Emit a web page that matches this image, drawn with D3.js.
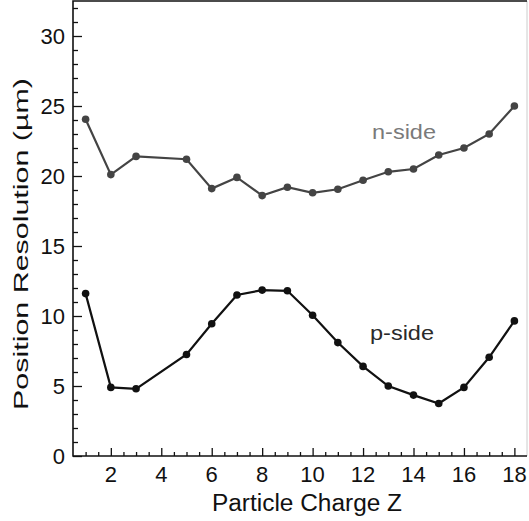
<!DOCTYPE html>
<html>
<head>
<meta charset="utf-8">
<script src="https://cdn.jsdelivr.net/npm/d3@7"></script>
<style>
  body { margin: 0; background: #fff; }
  svg { display: block; font-family: "Liberation Sans", Arial, sans-serif; }
</style>
</head>
<body>
<div id="chart"></div>
<script>
// particle charge Z (no measurement at Z = 4)
const charges = [1, 2, 3, 5, 6, 7, 8, 9, 10, 11, 12, 13, 14, 15, 16, 17, 18];
const nSide = [24.05, 20.1, 21.4, 21.2, 19.1, 19.9, 18.6, 19.2, 18.8, 19.05, 19.7, 20.3, 20.5, 21.5, 22.0, 23.0, 25.0];
const pSide = [11.6, 4.9, 4.8, 7.25, 9.45, 11.5, 11.85, 11.8, 10.05, 8.1, 6.4, 5.0, 4.35, 3.75, 4.9, 7.05, 9.65];
const xTicks = [2, 4, 6, 8, 10, 12, 14, 16, 18];
const yTicks = [0, 5, 10, 15, 20, 25, 30];

const width = 529, height = 521;
const margin = {top: 1, right: 2, bottom: 65, left: 73};

const svg = d3.select('#chart').append('svg')
  .attr('width', width)
  .attr('height', height);

const x = d3.scaleLinear().domain([0.5, 18.5]).range([margin.left, width - margin.right]);
const y = d3.scaleLinear().domain([0, 32.5]).range([height - margin.bottom, margin.top]);

// frame: dark left, bottom and top, faint right edge
const x0 = margin.left, x1 = width - margin.right;
const y0 = height - margin.bottom, y1 = margin.top;
svg.append('line').attr('x1', x1).attr('x2', x1).attr('y1', y1).attr('y2', y0)
  .attr('stroke', '#ccc').attr('stroke-width', 1);
svg.append('path')
  .attr('d', `M${x1},${y1}H${x0}V${y0}H${x1}`)
  .attr('fill', 'none')
  .attr('stroke', '#111')
  .attr('stroke-width', 1.6);

// minor ticks, pointing into the plot
const xMinor = d3.range(1, 18.01, 0.5).filter(v => v % 2 !== 0);
svg.append('g')
  .attr('transform', `translate(0,${y0})`)
  .call(d3.axisTop(x).tickValues(xMinor).tickSize(4).tickFormat(''))
  .call(g => g.select('.domain').remove());
svg.append('g')
  .attr('transform', `translate(${x0},0)`)
  .call(d3.axisRight(y).tickValues(d3.range(1, 33).filter(v => v % 5 !== 0)).tickSize(5).tickFormat(''))
  .call(g => g.select('.domain').remove());

// major ticks
svg.append('g')
  .attr('transform', `translate(0,${y0})`)
  .call(d3.axisTop(x).tickValues(xTicks).tickSize(8).tickFormat(''))
  .call(g => g.select('.domain').remove());
svg.append('g')
  .attr('transform', `translate(${x0},0)`)
  .call(d3.axisRight(y).tickValues(yTicks).tickSize(9).tickFormat(''))
  .call(g => g.select('.domain').remove());

svg.selectAll('.tick line').attr('stroke', '#111').attr('stroke-width', 1.3);

// tick labels
svg.append('g').selectAll('text')
  .data(xTicks)
  .join('text')
  .attr('x', d => x(d))
  .attr('y', y0 + 26)
  .attr('text-anchor', 'middle')
  .attr('font-size', 22)
  .attr('fill', '#111')
  .text(d => d);
svg.append('g').selectAll('text')
  .data(yTicks)
  .join('text')
  .attr('x', x0 - 8)
  .attr('y', d => y(d))
  .attr('dy', '0.35em')
  .attr('text-anchor', 'end')
  .attr('font-size', 22)
  .attr('fill', '#111')
  .text(d => d);

// axis titles
svg.append('text')
  .attr('x', 307)
  .attr('y', 511)
  .attr('text-anchor', 'middle')
  .attr('font-size', 23)
  .attr('textLength', 190)
  .attr('lengthAdjust', 'spacingAndGlyphs')
  .attr('fill', '#111')
  .text('Particle Charge Z');
svg.append('text')
  .attr('transform', 'translate(28,244) rotate(-90)')
  .attr('text-anchor', 'middle')
  .attr('font-size', 21)
  .attr('textLength', 332)
  .attr('lengthAdjust', 'spacingAndGlyphs')
  .attr('fill', '#111')
  .text('Position Resolution (µm)');

const line = d3.line()
  .x(d => x(d[0]))
  .y(d => y(d[1]));

function drawSeries(values, color) {
  const pts = charges.map((c, i) => [c, values[i]]);
  svg.append('path')
    .datum(pts)
    .attr('d', line)
    .attr('fill', 'none')
    .attr('stroke', color)
    .attr('stroke-width', 2.2);
  svg.append('g').selectAll('circle')
    .data(pts)
    .join('circle')
    .attr('cx', d => x(d[0]))
    .attr('cy', d => y(d[1]))
    .attr('r', 3.8)
    .attr('fill', color);
}

drawSeries(nSide, '#444');
drawSeries(pSide, '#111');

svg.append('text')
  .attr('x', 372)
  .attr('y', 139)
  .attr('font-size', 21)
  .attr('textLength', 64)
  .attr('lengthAdjust', 'spacingAndGlyphs')
  .attr('fill', '#7a7a7a')
  .text('n-side');
svg.append('text')
  .attr('x', 370)
  .attr('y', 340)
  .attr('font-size', 21)
  .attr('textLength', 64)
  .attr('lengthAdjust', 'spacingAndGlyphs')
  .attr('fill', '#2a2a2a')
  .text('p-side');
</script>
</body>
</html>
